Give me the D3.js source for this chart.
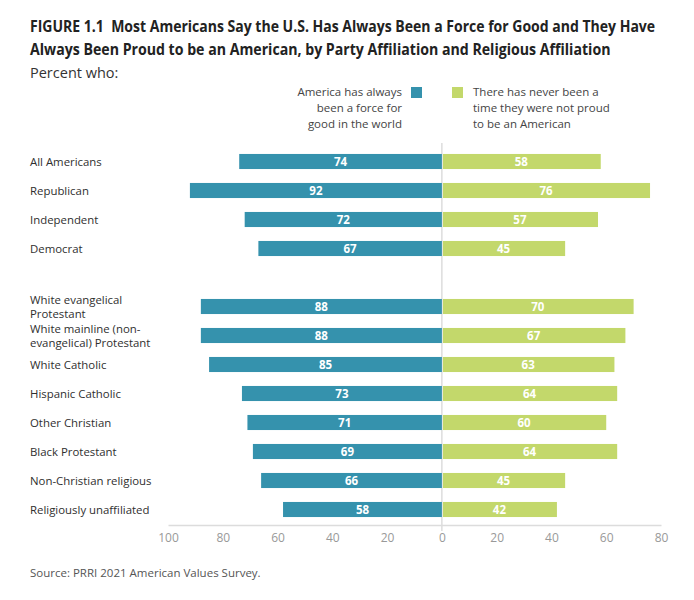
<!DOCTYPE html>
<html><head><meta charset="utf-8">
<script src="https://cdn.jsdelivr.net/npm/d3@7/dist/d3.min.js"></script>
<style>
body{margin:0;background:#fff;}
text{font-family:"Open Sans",sans-serif;}
</style></head>
<body><svg id="chart" width="694" height="600"></svg>
<script>
const titleLines = [
  "FIGURE 1.1\u00a0\u00a0Most Americans Say the U.S. Has Always Been a Force for Good and They Have",
  "Always Been Proud to be an American, by Party Affiliation and Religious Affiliation"
];
const subtitle = "Percent who:";
const partyGroups = ["All Americans","Republican","Independent","Democrat"];
const partyForceGood = [74,92,72,67];
const partyNeverNotProud = [58,76,57,45];
const religiousGroups = ["White evangelical\nProtestant","White mainline (non-\nevangelical) Protestant","White Catholic","Hispanic Catholic","Other Christian","Black Protestant","Non-Christian religious","Religiously unaffiliated"];
const religiousForceGood = [88,88,85,73,71,69,66,58];
const religiousNeverNotProud = [70,67,63,64,60,64,45,42];
const seriesNames = ["America has always\nbeen a force for\ngood in the world","There has never been a\ntime they were not proud\nto be an American"];
const xTicks = [-100,-80,-60,-40,-20,0,20,40,60,80];
const source = "Source: PRRI 2021 American Values Survey.";

const teal = "#3592ad", green = "#c3d86b";
const svg = d3.select("#chart");

// title (horizontally condensed to match the reference's narrow face)
const tl = [[30,32,626],[30,55,581]];
titleLines.forEach((t,i)=>{
  const el = svg.append("text").attr("x",0).attr("y",0)
    .attr("font-size",15.5).attr("font-weight",700).attr("fill","#222").text(t);
  const w = el.node().getComputedTextLength();
  const k = tl[i][2] / w;
  el.attr("transform",`translate(${tl[i][0]},${tl[i][1]}) scale(${k},1)`);
});
svg.append("text").attr("x",30).attr("y",78).attr("font-size",14.5).attr("fill","#333").text(subtitle);

// data rows
const rows = [];
partyGroups.forEach((g,i)=>rows.push({key:g,left:partyForceGood[i],right:partyNeverNotProud[i]}));
rows.push({key:"__gap__",left:null,right:null});
religiousGroups.forEach((g,i)=>rows.push({key:g,left:religiousForceGood[i],right:religiousNeverNotProud[i]}));

const x = d3.scaleLinear().domain([-100,80]).range([168,661]);
const y = d3.scaleBand().domain(rows.map(r=>r.key)).range([147,524]).paddingInner(0.48).paddingOuter(0.24);

const data = rows.filter(r=>r.left!==null);

// zero line
svg.append("line").attr("x1",x(0)).attr("x2",x(0)).attr("y1",143).attr("y2",531)
  .attr("stroke","#d4d4d4").attr("stroke-width",1.2);

// bars
svg.append("g").selectAll("rect").data(data).join("rect")
  .attr("x",d=>x(-d.left)).attr("width",d=>x(0)-x(-d.left))
  .attr("y",d=>y(d.key)).attr("height",y.bandwidth()).attr("fill",teal);
svg.append("g").selectAll("rect").data(data).join("rect")
  .attr("x",x(0)+1).attr("width",d=>x(d.right)-x(0)-1)
  .attr("y",d=>y(d.key)).attr("height",y.bandwidth()).attr("fill",green);

// value labels
svg.append("g").selectAll("text").data(data).join("text")
  .attr("x",d=>(x(-d.left)+x(0))/2).attr("y",d=>y(d.key)+y.bandwidth()/2)
  .attr("dy","0.36em").attr("text-anchor","middle").attr("font-size",11.5).attr("font-weight",700)
  .attr("fill","#fff").text(d=>d.left);
svg.append("g").selectAll("text").data(data).join("text")
  .attr("x",d=>(x(d.right)+x(0))/2).attr("y",d=>y(d.key)+y.bandwidth()/2)
  .attr("dy","0.36em").attr("text-anchor","middle").attr("font-size",11.5).attr("font-weight",700)
  .attr("fill","#fff").text(d=>d.right);

// category labels
const cat = svg.append("g").selectAll("text").data(data).join("text")
  .attr("x",30).attr("y",d=>y(d.key)+y.bandwidth()/2)
  .attr("font-size",11.4).attr("fill","#2f2f2f");
cat.each(function(d){
  const lines = d.key.split("\n");
  const el = d3.select(this);
  const lh = 14;
  const start = -(lines.length-1)*lh/2;
  lines.forEach((l,i)=>{
    el.append("tspan").attr("x",30).attr("dy", i===0 ? (start/11.4+0.36)+"em" : lh+"px").text(l);
  });
});

// axis
const axis = d3.axisBottom(x).tickValues(xTicks).tickSize(0).tickPadding(8).tickFormat(d=>Math.abs(d));
const ag = svg.append("g").attr("transform","translate(0,525)").call(axis);
ag.select(".domain").attr("stroke","#dcdcdc").attr("stroke-width",1.5);
ag.selectAll("text").attr("font-size",12).attr("fill","#999").attr("font-family","'Open Sans',sans-serif");

// legend
const lg = svg.append("g");
lg.append("rect").attr("x",411).attr("y",87).attr("width",11).attr("height",11).attr("fill",teal);
lg.append("rect").attr("x",452).attr("y",87).attr("width",11).attr("height",11).attr("fill",green);
seriesNames[0].split("\n").forEach((l,i)=>{
  lg.append("text").attr("x",402).attr("y",96+i*16).attr("text-anchor","end").attr("font-size",11.5).attr("fill","#444").text(l);
});
seriesNames[1].split("\n").forEach((l,i)=>{
  lg.append("text").attr("x",473).attr("y",96+i*16).attr("font-size",11.5).attr("fill","#444").text(l);
});

// source
svg.append("text").attr("x",30).attr("y",577).attr("font-size",11.5).attr("fill","#555").text(source);
</script>
</body></html>
